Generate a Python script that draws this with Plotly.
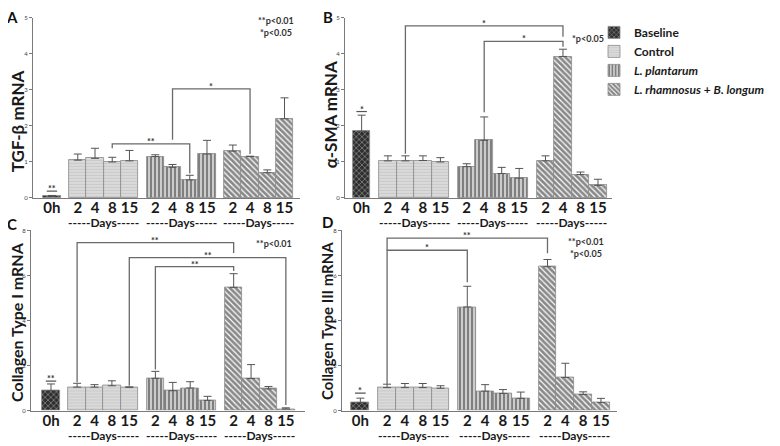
import plotly.graph_objs as go

# bar heights (mean) and upper error (SEM)
days = ['2', '4', '8', '15']

tgfb_baseline = [0.05]
tgfb_baseline_err = [0.02]
tgfb_control = [1.05, 1.10, 1.00, 1.03]
tgfb_control_err = [0.17, 0.28, 0.13, 0.29]
tgfb_lp = [1.15, 0.85, 0.50, 1.22]
tgfb_lp_err = [0.05, 0.08, 0.13, 0.38]
tgfb_lr = [1.30, 1.15, 0.70, 2.20]
tgfb_lr_err = [0.17, 0.01, 0.08, 0.58]

sma_baseline = [1.85]
sma_baseline_err = [0.45]
sma_control = [1.03, 1.03, 1.04, 1.00]
sma_control_err = [0.14, 0.14, 0.13, 0.12]
sma_lp = [0.87, 1.60, 0.68, 0.55]
sma_lp_err = [0.08, 0.65, 0.17, 0.27]
sma_lr = [1.03, 3.93, 0.65, 0.35]
sma_lr_err = [0.14, 0.20, 0.07, 0.17]

col1_baseline = [0.88]
col1_baseline_err = [0.30]
col1_control = [1.04, 1.04, 1.10, 1.03]
col1_control_err = [0.17, 0.11, 0.22, 0.02]
col1_lp = [1.43, 0.88, 1.00, 0.45]
col1_lp_err = [0.31, 0.37, 0.28, 0.18]
col1_lr = [5.47, 1.42, 0.96, 0.07]
col1_lr_err = [0.61, 0.62, 0.11, 0.05]

col3_baseline = [0.36]
col3_baseline_err = [0.19]
col3_control = [1.02, 1.02, 1.02, 0.99]
col3_control_err = [0.15, 0.18, 0.18, 0.11]
col3_lp = [4.60, 0.86, 0.76, 0.54]
col3_lp_err = [0.92, 0.29, 0.17, 0.28]
col3_lr = [6.39, 1.47, 0.71, 0.35]
col3_lr_err = [0.32, 0.63, 0.12, 0.19]

# the page body has an 8px margin, so the figure is drawn 8px in from the corner
OFF = 8
W, H = 780 - OFF, 446 - OFF
FONT = 'Lato'


def px(x):
    # screen x (as measured on the reference) -> paper fraction
    return (x - OFF) / W


def py(y):
    return 1 - (y - OFF) / H


# where each group of bars starts on the numeric x axis
group_start = {'Baseline': 0, 'Control': 1.5, 'LP': 6, 'LR': 10.5}


def xpos(group, i=0):
    return group_start[group] + i


# group styles: legend name, fill colour and pattern
styles = [
    ('Baseline', 'Baseline', dict(color='#2e2e2e', pattern=dict(
        shape='x', fgcolor='#dddddd', bgcolor='#2e2e2e', size=4, solidity=0.35))),
    ('Control', 'Control', dict(color='#d4d4d4', pattern=dict(
        shape='-', fgcolor='#b4b4b4', bgcolor='#dadada', size=3, solidity=0.3))),
    ('LP', '<i>L. plantarum</i>', dict(color='white', pattern=dict(
        shape='|', fgcolor='#000000', bgcolor='white', size=4, solidity=0.7))),
    ('LR', '<i>L. rhamnosus</i> + <i>B. longum</i>', dict(color='white', pattern=dict(
        shape='\\', fgcolor='#111111', bgcolor='white', size=4, solidity=0.7))),
]

panels = [
    dict(letter='A', title='TGF-β mRNA', ymax=5, dtick=1,
         data={'Baseline': (tgfb_baseline, tgfb_baseline_err),
               'Control': (tgfb_control, tgfb_control_err),
               'LP': (tgfb_lp, tgfb_lp_err),
               'LR': (tgfb_lr, tgfb_lr_err)},
         xdom=(33, 300), xr=(-1.1, 14.4), ydom=(14, 197)),
    dict(letter='B', title='α-SMA mRNA', ymax=5, dtick=1,
         data={'Baseline': (sma_baseline, sma_baseline_err),
               'Control': (sma_control, sma_control_err),
               'LP': (sma_lp, sma_lp_err),
               'LR': (sma_lr, sma_lr_err)},
         xdom=(345, 612), xr=(-0.95, 14.3), ydom=(14, 197)),
    dict(letter='C', title='Collagen Type I mRNA', ymax=8, dtick=2,
         data={'Baseline': (col1_baseline, col1_baseline_err),
               'Control': (col1_control, col1_control_err),
               'LP': (col1_lp, col1_lp_err),
               'LR': (col1_lr, col1_lr_err)},
         xdom=(31, 305), xr=(-1.15, 14.6), ydom=(230, 413)),
    dict(letter='D', title='Collagen Type III mRNA', ymax=8, dtick=2,
         data={'Baseline': (col3_baseline, col3_baseline_err),
               'Control': (col3_control, col3_control_err),
               'LP': (col3_lp, col3_lp_err),
               'LR': (col3_lr, col3_lr_err)},
         xdom=(342, 617), xr=(-1.03, 14.4), ydom=(230, 413)),
]

fig = go.Figure()
layout = dict(width=W, height=H, margin=dict(l=0, r=0, t=0, b=0),
              plot_bgcolor='white', paper_bgcolor='white',
              font=dict(family=FONT, color='#222'), bargap=0,
              shapes=[], annotations=[])

tickvals = [xpos('Baseline')] + [xpos(g, i) for g in ['Control', 'LP', 'LR'] for i in range(4)]
ticktext = ['0h'] + days * 3

for n, p in enumerate(panels, start=1):
    sfx = '' if n == 1 else str(n)
    for key, label, marker in styles:
        vals, err = p['data'][key]
        marker = dict(marker)
        marker['line'] = dict(color='#8a8a8a', width=0.8)
        fig.add_trace(go.Bar(
            x=[xpos(key, i) for i in range(len(vals))], y=vals, width=1,
            name=label, marker=marker, showlegend=(n == 2),
            error_y=dict(type='data', array=err, arrayminus=[0] * len(err),
                         symmetric=False, color='#555', thickness=1, width=4),
            xaxis='x' + sfx, yaxis='y' + sfx))

    layout['xaxis' + sfx] = dict(
        domain=[px(p['xdom'][0]), px(p['xdom'][1])], range=list(p['xr']),
        anchor='y' + sfx, showline=True, linecolor='#7a7a7a', linewidth=1.2,
        showgrid=False, zeroline=False, ticks='', tickvals=tickvals,
        ticktext=ticktext, ticklabelstandoff=-4,
        tickfont=dict(family=FONT, size=15, weight='bold', color='#1a1a1a'))
    layout['yaxis' + sfx] = dict(
        domain=[py(p['ydom'][1]), py(p['ydom'][0])], range=[0, p['ymax']],
        dtick=p['dtick'], anchor='x' + sfx, showline=True, linecolor='#7a7a7a',
        linewidth=1.2, showgrid=False, zeroline=False, ticks='outside',
        ticklen=3, tickcolor='#7a7a7a', tickfont=dict(size=6, color='#444'))

    # group labels under the day ticks
    ylab = 222 if n <= 2 else 438
    for g in ['Control', 'LP', 'LR']:
        layout['annotations'].append(dict(
            x=xpos(g, 1.5), y=py(ylab), xref='x' + sfx, yref='paper',
            text='-----Days-----', showarrow=False, yanchor='middle', borderpad=0,
            font=dict(size=12, weight='bold', color='#1a1a1a')))

# panel letters and y titles
for letter, x, y in [('A', 12, 13), ('B', 328, 13), ('C', 12, 223), ('D', 327, 221)]:
    layout['annotations'].append(dict(x=px(x), y=py(y), xref='paper', yref='paper',
                                      text=letter, showarrow=False, borderpad=0,
                                      xanchor='center', yanchor='middle',
                                      font=dict(size=15, weight='bold', color='#111')))
for p, x, y, size in [(panels[0], 17, 119, 17), (panels[1], 330, 113, 17),
                      (panels[2], 17, 323, 16), (panels[3], 327, 322, 15)]:
    layout['annotations'].append(dict(x=px(x), y=py(y), xref='paper', yref='paper',
                                      text=p['title'], textangle=-90, showarrow=False,
                                      xanchor='center', yanchor='middle', borderpad=0,
                                      font=dict(size=size, weight='bold', color='#1a1a1a')))

# significance brackets: (axis suffix, left bar, right bar, top, left end, right end, stars)
brackets = [
    ('', ('Control', 2), ('LP', 2), 1.5, 1.38, 0.68, '**'),
    ('', ('LP', 1), ('LR', 1), 3.03, 1.62, 1.22, '*'),
    ('2', ('Control', 1), ('LR', 1), 4.78, 1.23, 4.48, '*'),
    ('2', ('LP', 1), ('LR', 1), 4.35, 2.38, 4.2, '*'),
    ('3', ('Control', 0), ('LR', 0), 7.46, 1.26, 7.0, '**'),
    ('3', ('Control', 3), ('LR', 3), 6.79, 1.1, 0.25, '**'),
    ('3', ('LP', 0), ('LR', 0), 6.39, 1.82, 6.2, '**'),
    ('4', ('Control', 0), ('LP', 0), 7.12, 1.18, 5.7, '*'),
    ('4', ('Control', 0), ('LR', 0), 7.66, 7.12, 6.99, '**'),
]
for sfx, left, right, top, yl, yr, stars in brackets:
    xl, xr = xpos(*left), xpos(*right)
    layout['shapes'].append(dict(
        type='path', xref='x' + sfx, yref='y' + sfx,
        path='M %s,%s L %s,%s L %s,%s L %s,%s' % (xl, yl, xl, top, xr, top, xr, yr),
        line=dict(color='#6a6a6a', width=1.3)))
    layout['annotations'].append(dict(
        x=(xl + xr) / 2, y=top, xref='x' + sfx, yref='y' + sfx, text=stars,
        showarrow=False, yanchor='bottom', yshift=-4, borderpad=0,
        font=dict(size=9, weight='bold', color='#333')))

# marks over the baseline bars
for sfx, ymark, stars in [('', 0.19, '**'), ('2', 2.4, '*'), ('3', 1.31, '**'), ('4', 0.77, '*')]:
    layout['shapes'].append(dict(type='line', xref='x' + sfx, yref='y' + sfx,
                                 x0=-0.3, x1=0.3, y0=ymark, y1=ymark,
                                 line=dict(color='#555', width=1.2)))
    layout['annotations'].append(dict(
        x=0, y=ymark, xref='x' + sfx, yref='y' + sfx, text=stars, showarrow=False,
        yanchor='bottom', yshift=-4, borderpad=0,
        font=dict(size=9, weight='bold', color='#333')))

# p-value notes
for text, x, y in [('**p<0.01<br>*p<0.05', 276, 23), ('*p<0.05', 588, 35),
                   ('**p<0.01', 274, 243), ('**p<0.01<br>*p<0.05', 586, 247)]:
    layout['annotations'].append(dict(x=px(x), y=py(y), xref='paper', yref='paper',
                                      text=text, showarrow=False,
                                      xanchor='center', yanchor='middle',
                                      font=dict(size=9, weight='bold', color='#333')))

layout['legend'] = dict(x=px(594), y=py(14), xanchor='left', yanchor='top',
                        font=dict(size=12, weight='bold', color='#1a1a1a'),
                        bgcolor='rgba(0,0,0,0)', tracegroupgap=0)

fig.update_layout(layout)
fig.write_html('out.html')
